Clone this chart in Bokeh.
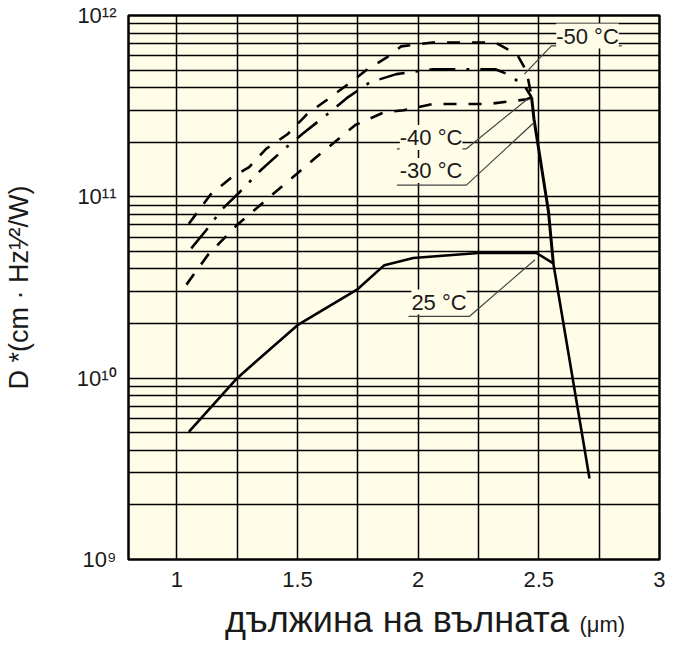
from bokeh.plotting import figure
from bokeh.models import FixedTicker, CustomJSTickFormatter, LabelSet, ColumnDataSource, Div
from bokeh.layouts import column
from bokeh.core.properties import value
from bokeh.embed import file_html
from bokeh.resources import INLINE

# ---- data (wavelength in um, D* in cm*Hz^1/2/W) ----
wl_25 = [1.05, 1.25, 1.50, 1.75, 1.86, 1.98, 2.25, 2.49, 2.56, 2.71]
d_25 = [5.05e9, 1.0e10, 1.96e10, 3.1e10, 4.2e10, 4.6e10, 4.9e10, 4.9e10, 4.3e10, 2.8e9]

wl_m50 = [1.05, 1.14, 1.22, 1.30, 1.37, 1.46, 1.54, 1.62, 1.71, 1.79, 1.87, 1.93, 2.06, 2.32, 2.41, 2.45, 2.47]
d_m50 = [7.1e10, 1.03e11, 1.26e11, 1.46e11, 1.84e11, 2.22e11, 2.86e11, 3.41e11, 4.18e11, 5.05e11,
         5.87e11, 6.76e11, 7.1e11, 7.1e11, 6.1e11, 4.9e11, 3.54e11]

wl_m40 = [1.06, 1.12, 1.19, 1.26, 1.35, 1.44, 1.52, 1.62, 1.71, 1.80, 1.91, 2.06, 2.32, 2.37, 2.44, 2.47]
d_m40 = [5.2e10, 6.5e10, 8.6e10, 1.06e11, 1.41e11, 1.81e11, 2.22e11, 2.83e11, 3.55e11, 4.28e11,
         4.75e11, 5.05e11, 5.05e11, 4.75e11, 4.1e11, 3.54e11]

wl_m30 = [1.04, 1.13, 1.25, 1.40, 1.57, 1.74, 1.86, 1.94, 2.06, 2.29, 2.45, 2.47]
d_m30 = [3.28e10, 4.8e10, 7.0e10, 1.04e11, 1.62e11, 2.49e11, 2.93e11, 3.0e11, 3.25e11, 3.25e11, 3.45e11, 3.54e11]

# common cut-off of the cooled curves
wl_cut = [2.47, 2.48, 2.54, 2.56]
d_cut = [3.54e11, 2.68e11, 8.3e10, 4.3e10]

x_major = [1, 1.5, 2, 2.5, 3]
x_minor = [1.25, 1.75, 2.25, 2.75]
y_major = [1e9, 1e10, 1e11, 1e12]
y_minor = [m * 10 ** e for e in (9, 10, 11) for m in range(2, 10)]

label_text = ["-50 \u00b0C", "-40 \u00b0C", "-30 \u00b0C", "25 \u00b0C"]
label_x = [2.572, 1.924, 1.924, 1.972]
label_y = [7.0e11, 1.93e11, 1.27e11, 2.39e10]

leader_x = [[2.844, 2.552, 2.44], [1.912, 2.20, 2.452], [1.912, 2.20, 2.48], [1.96, 2.212, 2.484]]
leader_y = [[6.8e11, 6.8e11, 4.75e11], [1.84e11, 1.84e11, 3.45e11], [1.16e11, 1.16e11, 2.57e11],
            [2.19e10, 2.19e10, 4.5e10]]

x_title = "дължина на вълната"
x_unit = "(\u03bcm)"
y_title = "D *(cm \u00b7 Hz\u00b9\u2044\u00b2/W)"

FONT = "Liberation Sans"
BG = "#fffce8"
INK = "#1a1a1a"

p = figure(width=665, height=600, x_range=(0.8, 3.0), y_range=(1e9, 1e12), y_axis_type="log",
           output_backend="svg", toolbar_location=None,
           min_border_left=118, min_border_right=6, min_border_top=15, min_border_bottom=41)
p.background_fill_color = BG
p.border_fill_color = "white"
p.outline_line_color = "black"
p.outline_line_width = 2.5

p.xaxis.ticker = FixedTicker(ticks=x_major, minor_ticks=x_minor)
p.yaxis.ticker = FixedTicker(ticks=y_major, minor_ticks=y_minor)
p.xaxis.formatter = CustomJSTickFormatter(code="return String(tick);")
p.yaxis.formatter = CustomJSTickFormatter(code="""
const sup = {"0":"\u2070","1":"\u00b9","2":"\u00b2","3":"\u00b3","4":"\u2074","5":"\u2075","6":"\u2076","7":"\u2077","8":"\u2078","9":"\u2079"};
const e = Math.round(Math.log10(tick));
return "10" + String(e).split("").map(c => sup[c]).join("");
""")
for ax in (p.xaxis, p.yaxis):
    ax.axis_line_color = None
    ax.major_tick_line_color = None
    ax.minor_tick_line_color = None
    ax.major_label_text_font = FONT
    ax.major_label_text_font_size = "22px"
    ax.major_label_text_color = INK
    ax.major_label_standoff = 6

p.yaxis.axis_label = y_title
p.yaxis.axis_label_text_font = FONT
p.yaxis.axis_label_text_font_size = "27px"
p.yaxis.axis_label_text_font_style = "normal"
p.yaxis.axis_label_text_color = INK
p.yaxis.axis_label_standoff = 40

for g in (p.xgrid, p.ygrid):
    g.grid_line_color = "black"
    g.grid_line_width = 1.5
    g.grid_line_alpha = 1.0
    g.minor_grid_line_color = "black"
    g.minor_grid_line_width = 1.5
    g.minor_grid_line_alpha = 1.0

p.line(wl_25, d_25, line_color="black", line_width=2.6)
p.line(wl_m50, d_m50, line_color="black", line_width=2.6, line_dash="13 12")
p.line(wl_m40, d_m40, line_color="black", line_width=2.6, line_dash="26 11 3 11")
p.line(wl_m30, d_m30, line_color="black", line_width=2.6, line_dash="13 12")
p.line(wl_cut, d_cut, line_color="black", line_width=3)

for lx, ly in zip(leader_x, leader_y):
    p.line(lx, ly, line_color="#444444", line_width=1.2)

src = ColumnDataSource(dict(x=label_x, y=label_y, text=label_text))
p.add_layout(LabelSet(x="x", y="y", text="text", source=src, text_font=value(FONT),
                      text_font_size=value("22px"), text_color=INK, text_baseline="alphabetic",
                      text_align="left", background_fill_color=BG))

title_html = (
    '<div style="position:relative;top:4px;font-family:\'Liberation Sans\',Arial,sans-serif;'
    'font-size:36px;line-height:32px;color:%s;white-space:nowrap;padding-left:225px;">'
    '%s <span style="font-size:22px;">%s</span></div>'
    % (INK, x_title, x_unit)
)
div = Div(text=title_html, width=665, height=32, margin=(0, 0, 0, 0))

layout = column(p, div, spacing=0)
open("out.html", "w").write(file_html(layout, INLINE))
